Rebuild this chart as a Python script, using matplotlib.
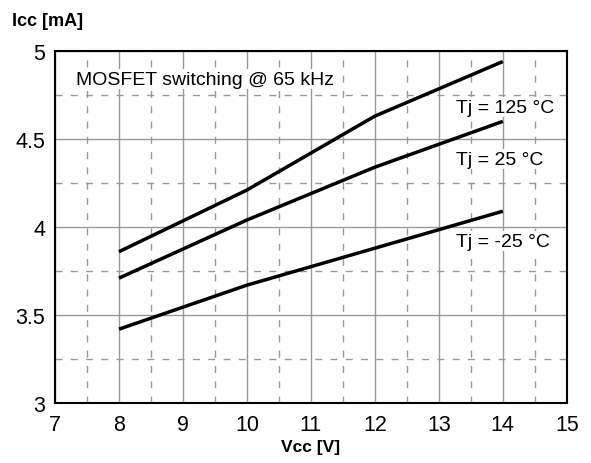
import matplotlib.pyplot as plt
from matplotlib.ticker import MultipleLocator

plt.rcParams['font.family'] = ['Liberation Sans', 'DejaVu Sans']

vcc = [8, 10, 12, 14]
icc_125 = [3.86, 4.21, 4.63, 4.94]
icc_25 = [3.71, 4.04, 4.34, 4.60]
icc_m25 = [3.42, 3.67, 3.88, 4.09]

x_ticks = [7, 8, 9, 10, 11, 12, 13, 14, 15]
y_ticks = [3, 3.5, 4, 4.5, 5]
y_tick_labels = ['3', '3.5', '4', '4.5', '5']

fig = plt.figure(figsize=(5.91, 4.64), dpi=100)
ax = fig.add_axes([0.093, 0.129, 0.866, 0.759])

ax.plot(vcc, icc_125, color='black', lw=2.5, solid_capstyle='butt', zorder=3)
ax.plot(vcc, icc_25, color='black', lw=2.5, solid_capstyle='butt', zorder=3)
ax.plot(vcc, icc_m25, color='black', lw=2.5, solid_capstyle='butt', zorder=3)

ax.set_xlim(7, 15)
ax.set_ylim(3, 5)
ax.set_xticks(x_ticks)
ax.set_yticks(y_ticks)
ax.set_yticklabels(y_tick_labels)
ax.xaxis.set_minor_locator(MultipleLocator(0.5))
ax.yaxis.set_minor_locator(MultipleLocator(0.25))
ax.grid(which='major', color='#999999', lw=1, ls='-')
ax.grid(which='minor', color='#999999', lw=1, ls=(0, (5, 6)))
ax.tick_params(which='both', length=0, labelsize=15.5)
ax.tick_params(axis='x', pad=8)
ax.tick_params(axis='y', pad=7)
for s in ax.spines.values():
    s.set_linewidth(1.5)

box = dict(facecolor='white', edgecolor='none', pad=1)
ax.text(7.33, 4.84, 'MOSFET switching @ 65 kHz', fontsize=14, va='center', bbox=box)
ax.text(13.27, 4.68, 'Tj = 125 °C', fontsize=14, va='center', bbox=box)
ax.text(13.27, 4.385, 'Tj = 25 °C', fontsize=14, va='center', bbox=box)
ax.text(13.27, 3.92, 'Tj = -25 °C', fontsize=14, va='center', bbox=box)

fig.text(0.021, 0.954, 'Icc [mA]', fontsize=13, fontweight='bold', va='center')
ax.set_xlabel('Vcc [V]', fontsize=12.5, fontweight='bold', labelpad=3)

fig.savefig('out.png', dpi=100)
